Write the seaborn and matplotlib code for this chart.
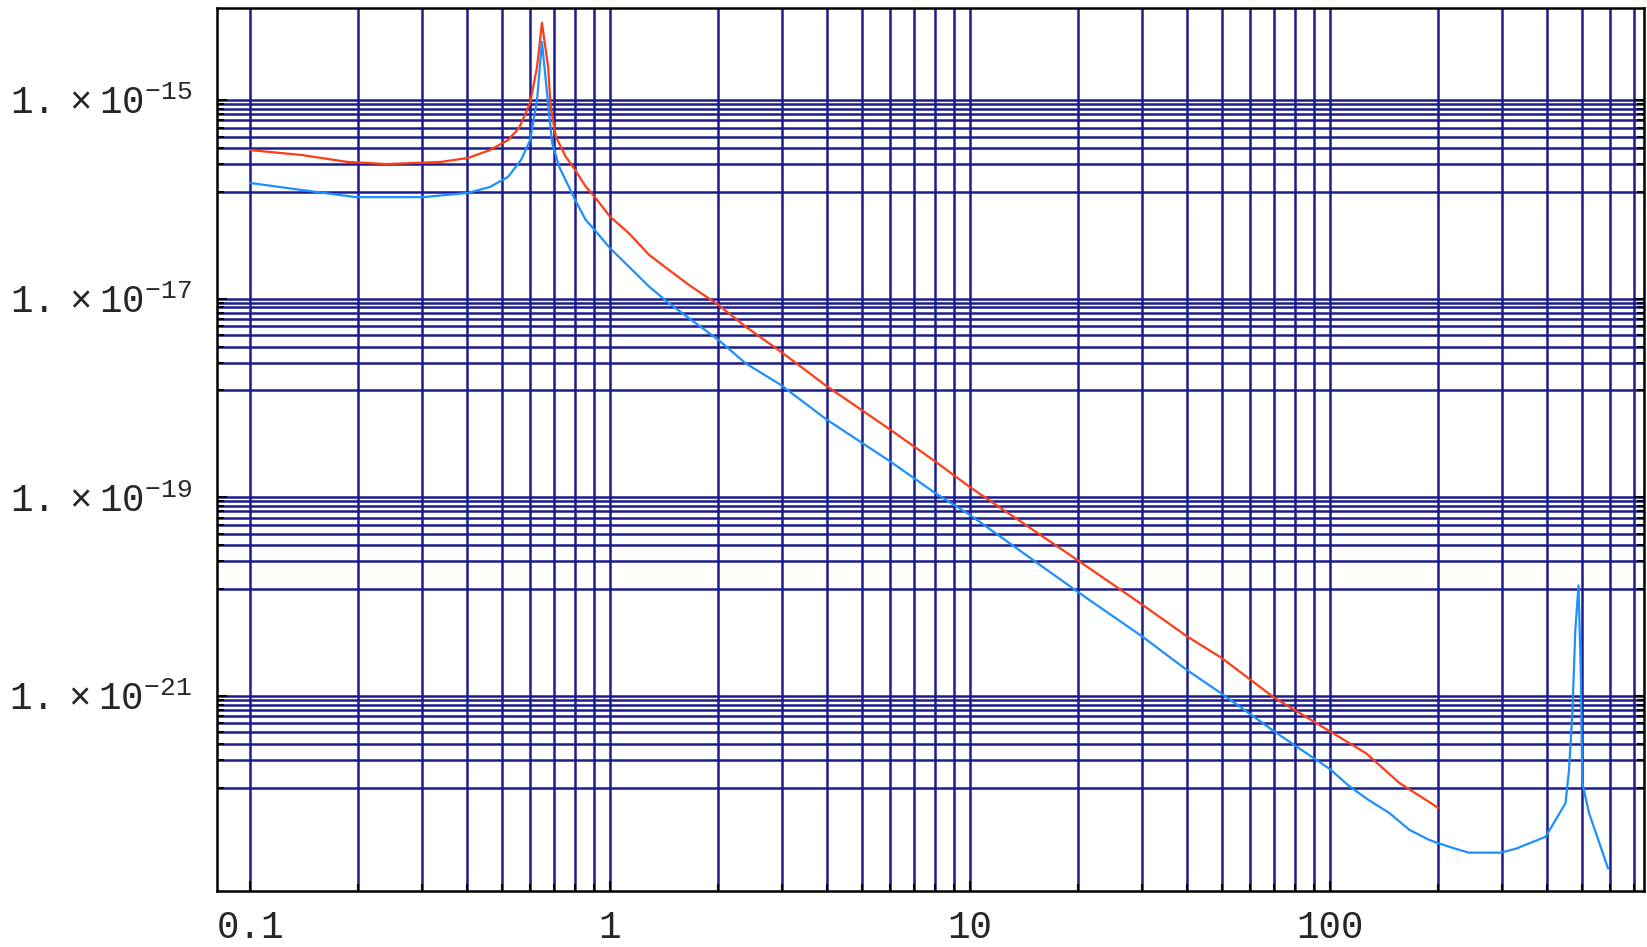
import matplotlib
matplotlib.use("Agg")
import matplotlib.pyplot as plt
import matplotlib.ticker as mticker
import seaborn as sns
import pandas as pd

# red curve (ends at 200)
red_x = [0.1, 0.139, 0.186, 0.24, 0.34, 0.404, 0.464, 0.521, 0.559, 0.60, 0.627, 0.647,
         0.673, 0.684, 0.707, 0.753, 0.80, 0.856, 0.906, 1.0, 1.129, 1.284, 1.458, 1.657,
         2.0, 2.38, 2.98, 4, 6, 8, 10, 20, 30, 40, 50, 70, 82, 100, 126, 156, 200]
red_y = [3.13e-16, 2.79e-16, 2.38e-16, 2.26e-16, 2.38e-16, 2.61e-16, 3.13e-16, 3.95e-16,
         5.22e-16, 9.33e-16, 2.15e-15, 5.96e-15, 2.15e-15, 8.57e-16, 4.27e-16, 2.69e-16,
         1.97e-16, 1.34e-16, 1.06e-16, 6.68e-17, 4.54e-17, 2.75e-17, 1.94e-17, 1.37e-17,
         8.63e-18, 5.21e-18, 2.92e-18, 1.31e-18, 4.79e-19, 2.29e-19, 1.26e-19, 2.29e-20,
         8.32e-21, 3.98e-21, 2.40e-21, 9.55e-22, 6.76e-22, 4.37e-22, 2.63e-22, 1.32e-22,
         7.41e-23]

# blue curve (second resonance near 490)
blue_x = [0.1, 0.139, 0.197, 0.303, 0.404, 0.464, 0.521, 0.566, 0.60, 0.627, 0.647, 0.677,
          0.691, 0.722, 0.80, 0.856, 0.906, 1.0, 1.129, 1.284, 1.458, 1.657, 2.0, 2.38,
          2.98, 4, 6, 8, 10, 20, 30, 40, 50, 70, 100, 113, 128, 146, 166, 188, 200, 223,
          243, 298, 328, 397, 451, 461, 471, 480, 490, 497, 502, 524, 592]
blue_y = [1.46e-16, 1.24e-16, 1.05e-16, 1.05e-16, 1.16e-16, 1.33e-16, 1.68e-16, 2.49e-16,
          3.95e-16, 1.0e-15, 3.84e-15, 7.35e-16, 3.66e-16, 2.13e-16, 9.84e-17, 6.19e-17,
          4.91e-17, 3.21e-17, 2.09e-17, 1.32e-17, 8.97e-18, 6.34e-18, 3.83e-18, 2.23e-18,
          1.35e-18, 6.03e-19, 2.29e-19, 1.10e-19, 6.61e-20, 1.10e-20, 3.98e-21, 1.82e-21,
          1.05e-21, 4.37e-22, 1.82e-22, 1.23e-22, 8.91e-23, 6.61e-23, 4.47e-23, 3.55e-23,
          3.27e-23, 2.88e-23, 2.63e-23, 2.63e-23, 2.88e-23, 3.80e-23, 8.32e-23, 1.78e-22,
          6.61e-22, 4.57e-21, 1.29e-20, 1.82e-21, 1.32e-22, 6.61e-23, 1.82e-23]

x_labels = ["0.1", "1", "10", "100"]
y_major = [1e-15, 1e-17, 1e-19, 1e-21]
y_labels = [r"$1.\times10^{-15}$", r"$1.\times10^{-17}$", r"$1.\times10^{-19}$", r"$1.\times10^{-21}$"]
# horizontal grid group below each labelled power
grid_ratios = [0.907, 0.813, 0.719, 0.623, 0.527, 0.428, 0.328, 0.226, 0.119]

sns.set_style("white")
plt.rcParams["font.family"] = ["Liberation Mono", "DejaVu Sans Mono"]
plt.rcParams["mathtext.default"] = "regular"

navy = "#1c1c8c"

fig = plt.figure(figsize=(16.47, 9.47), dpi=100)
ax = fig.add_axes([0.1318, 0.0591, 0.8664, 0.932])

red = pd.DataFrame({"x": red_x, "y": red_y})
blue = pd.DataFrame({"x": blue_x, "y": blue_y})
sns.lineplot(data=red, x="x", y="y", color="#ff3c14", lw=1.6, ax=ax, zorder=3)
sns.lineplot(data=blue, x="x", y="y", color="#1e8fff", lw=1.6, ax=ax, zorder=3)

ax.set_xscale("log")
ax.set_yscale("log")
ax.set_xlim(0.081, 745)
ax.set_ylim(1.08e-23, 8.35e-15)

x_major = [0.1, 1, 10, 100]
x_minor = [m * d for d in [0.1, 1, 10, 100] for m in range(2, 10) if m * d < 745]
ax.xaxis.set_major_locator(mticker.FixedLocator(x_major))
ax.xaxis.set_minor_locator(mticker.FixedLocator(x_minor))
ax.xaxis.set_major_formatter(mticker.FixedFormatter(x_labels))
ax.xaxis.set_minor_formatter(mticker.NullFormatter())

y_minor = [v * r for v in y_major for r in grid_ratios]
ax.yaxis.set_major_locator(mticker.FixedLocator(y_major))
ax.yaxis.set_minor_locator(mticker.FixedLocator(y_minor))
ax.yaxis.set_major_formatter(mticker.FixedFormatter(y_labels))
ax.yaxis.set_minor_formatter(mticker.NullFormatter())

ax.grid(True, which="both", color=navy, lw=1.8)
ax.set_axisbelow(True)

ax.tick_params(which="both", direction="in", color="black", left=True, bottom=True,
               right=True, top=False, labelsize=27)
ax.tick_params(which="major", length=7, width=1.5)
ax.tick_params(which="minor", length=5, width=1.5)
ax.tick_params(axis="x", pad=14)
ax.tick_params(axis="y", pad=18)

for s in ax.spines.values():
    s.set_visible(True)
    s.set_color("black")
    s.set_linewidth(1.8)

ax.set_xlabel("")
ax.set_ylabel("")

fig.savefig("out.png", dpi=100)
